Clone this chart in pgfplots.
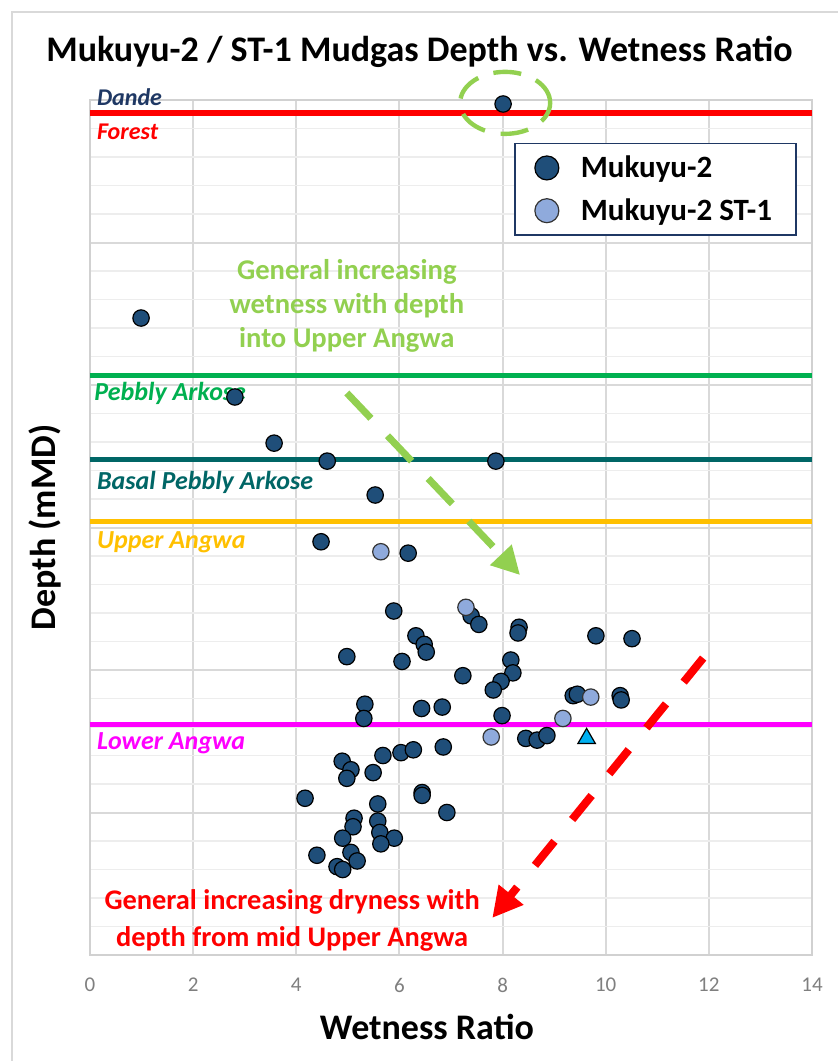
\documentclass[border=0pt]{standalone}
\usepackage{pgfplots}
\usepackage{pgfplotstable}
\pgfplotsset{compat=1.18}
\usepackage{fontspec}
\setmainfont{Carlito}
\usetikzlibrary{arrows.meta}
\definecolor{mdark}{HTML}{1F4E79}
\definecolor{mlight}{HTML}{8FAADC}
\definecolor{tri}{HTML}{00B0F0}
\definecolor{legbd}{HTML}{1F3864}
\definecolor{dandec}{HTML}{1F3864}
\definecolor{pebc}{HTML}{00B050}
\definecolor{tealc}{HTML}{006666}
\definecolor{orc}{HTML}{FFC000}
\definecolor{magc}{HTML}{FF00FF}
\definecolor{lgreen}{HTML}{92D050}
\definecolor{tickc}{HTML}{7F7F7F}

\pgfplotstableread{
x y
8.01 0.14
0.99 7.65
2.81 10.42
3.57 12.04
4.60 12.67
7.87 12.67
5.53 13.86
4.48 15.50
6.17 15.90
5.89 17.93
6.32 18.80
6.48 19.10
6.52 19.37
4.98 19.53
6.05 19.70
7.39 18.10
7.54 18.40
8.32 18.50
8.30 18.70
9.81 18.80
10.51 18.90
7.23 20.20
8.16 19.65
8.20 20.10
7.97 20.40
7.82 20.70
9.37 20.90
9.45 20.85
10.28 20.90
10.30 21.05
6.43 21.35
6.83 21.30
7.99 21.60
8.45 22.40
8.67 22.46
8.86 22.30
5.33 21.20
5.31 21.70
4.89 23.20
5.06 23.50
4.98 23.80
5.49 23.60
5.68 23.00
6.03 22.90
6.27 22.80
6.85 22.70
4.17 24.50
6.44 24.30
6.44 24.40
6.92 25.00
5.58 24.70
5.12 25.20
5.58 25.30
5.10 25.50
4.90 25.90
5.62 25.70
5.90 25.90
5.64 26.10
4.40 26.50
5.06 26.40
5.18 26.70
4.79 26.90
4.90 27.00
}\mukA

\pgfplotstableread{
x y
5.64 15.85
7.29 17.80
9.71 20.95
9.17 21.70
7.78 22.35
}\mukB

\pgfplotstableread{
x y
9.63 22.40
}\mukC

\begin{document}
\begin{tikzpicture}
\useasboundingbox (-45pt,-53pt) rectangle (374pt,477.5pt);
\fill[white] (-45pt,-53pt) rectangle (374pt,477.5pt);
\draw[black!15, line width=1pt] (-39pt,-60pt) -- (-39pt,471.5pt) -- (380pt,471.5pt);
\node[font=\fontsize{18}{21}\selectfont\bfseries] at (164.75pt,451.5pt) {Mukuyu-2 / ST-1 Mudgas Depth vs. Wetness Ratio};
\node[font=\fontsize{18}{21}\selectfont\bfseries] at (168.5pt,-36pt) {Wetness Ratio};
\node[font=\fontsize{18}{21}\selectfont\bfseries, rotate=90] at (-22.5pt,213.75pt) {Depth (mMD)};
\begin{axis}[
  name=ax, at={(0,0)}, anchor=south west,
  scale only axis, width=361pt, height=427.5pt,
  xmin=0, xmax=14, ymin=0, ymax=30, y dir=reverse,
  xtick={0,2,...,14}, ytick={0,5,...,30}, yticklabels={},
  minor y tick num=4,
  xmajorgrids, ymajorgrids, yminorgrids,
  major grid style={draw=black!15, line width=1pt},
  minor grid style={draw=black!7, line width=0.8pt},
  axis line style={draw=black!18, line width=1pt},
  major tick length=0pt, minor tick length=0pt,
  xticklabel style={font=\fontsize{10.5}{12}\selectfont, text=tickc, yshift=-8pt},
  /pgf/number format/assume math mode=true,
  clip=false,
  legend style={at={(axis description cs:0.979,0.95)}, anchor=north east,
    draw=legbd, line width=0.8pt, fill=white,
    font=\fontsize{15.5}{18}\selectfont\bfseries,
    row sep=5pt, column sep=9pt, inner xsep=10pt, inner ysep=4pt},
  legend cell align=left,
]
% formation tops
\addplot[red, line width=2.8pt, forget plot] coordinates {(0,0.46) (14,0.46)};
\addplot[pebc, line width=2.5pt, forget plot] coordinates {(0,9.68) (14,9.68)};
\addplot[tealc, line width=2.5pt, forget plot] coordinates {(0,12.63) (14,12.63)};
\addplot[orc, line width=2.5pt, forget plot] coordinates {(0,14.80) (14,14.80)};
\addplot[magc, line width=2.5pt, forget plot] coordinates {(0,21.90) (14,21.90)};
% data
\addplot[only marks, mark=*, mark size=4.1pt, mark options={fill=mdark, draw=black, line width=0.6pt}, legend image post style={mark size=6pt}] table[x=x,y=y] {\mukA};
\addplot[only marks, mark=*, mark size=4.1pt, mark options={fill=mlight, draw=black!80, line width=0.6pt}, legend image post style={mark size=6pt}] table[x=x,y=y] {\mukB};
\addplot[only marks, mark=triangle*, mark size=5pt, mark options={fill=tri, draw=black, line width=0.6pt}, forget plot] table[x=x,y=y] {\mukC};
\legend{Mukuyu-2, Mukuyu-2 ST-1}
% labels
\node[anchor=base west, font=\fontsize{12}{14}\selectfont\bfseries\itshape, text=dandec] at (axis cs:0.0,0.18) {Dande};
\node[anchor=base west, font=\fontsize{12}{14}\selectfont\bfseries\itshape, text=red] at (axis cs:0.0,1.40) {Forest};
\node[anchor=base west, font=\fontsize{13}{15}\selectfont\bfseries\itshape, text=pebc] at (axis cs:-0.05,10.56) {Pebbly Arkose};
\node[anchor=base west, font=\fontsize{13}{15}\selectfont\bfseries\itshape, text=tealc] at (axis cs:0.0,13.65) {Basal Pebbly Arkose};
\node[anchor=base west, font=\fontsize{13}{15}\selectfont\bfseries\itshape, text=orc] at (axis cs:0.0,15.75) {Upper Angwa};
\node[anchor=base west, font=\fontsize{13}{15}\selectfont\bfseries\itshape, text=magc] at (axis cs:0.0,22.80) {Lower Angwa};
% annotations
\draw[lgreen, line width=2.2pt, dash pattern=on 14pt off 8pt] (axis cs:8.05,0.1) ellipse [x radius=22.5pt, y radius=15.5pt];
\node[align=center, text=lgreen, font=\fontsize{14.3}{17}\selectfont\bfseries] at (axis cs:4.98,7.23) {General increasing\\wetness with depth\\into Upper Angwa};
\draw[lgreen, line width=3.5pt, dash pattern=on 17.5pt off 12pt, -{Triangle[length=14pt,width=14pt]}] (axis cs:4.98,10.28) -- (axis cs:8.34,16.67);
\draw[red, line width=4pt, dash pattern=on 15.5pt off 14pt, -{Triangle[length=15pt,width=15pt]}] (axis cs:11.89,19.58) -- (axis cs:7.80,28.70);
\node[align=center, text=red, font=\fontsize{14.2}{18.5}\selectfont\bfseries] at (axis cs:3.92,28.77) {General increasing dryness with\\depth from mid Upper Angwa};
\end{axis}
\end{tikzpicture}
\end{document}
